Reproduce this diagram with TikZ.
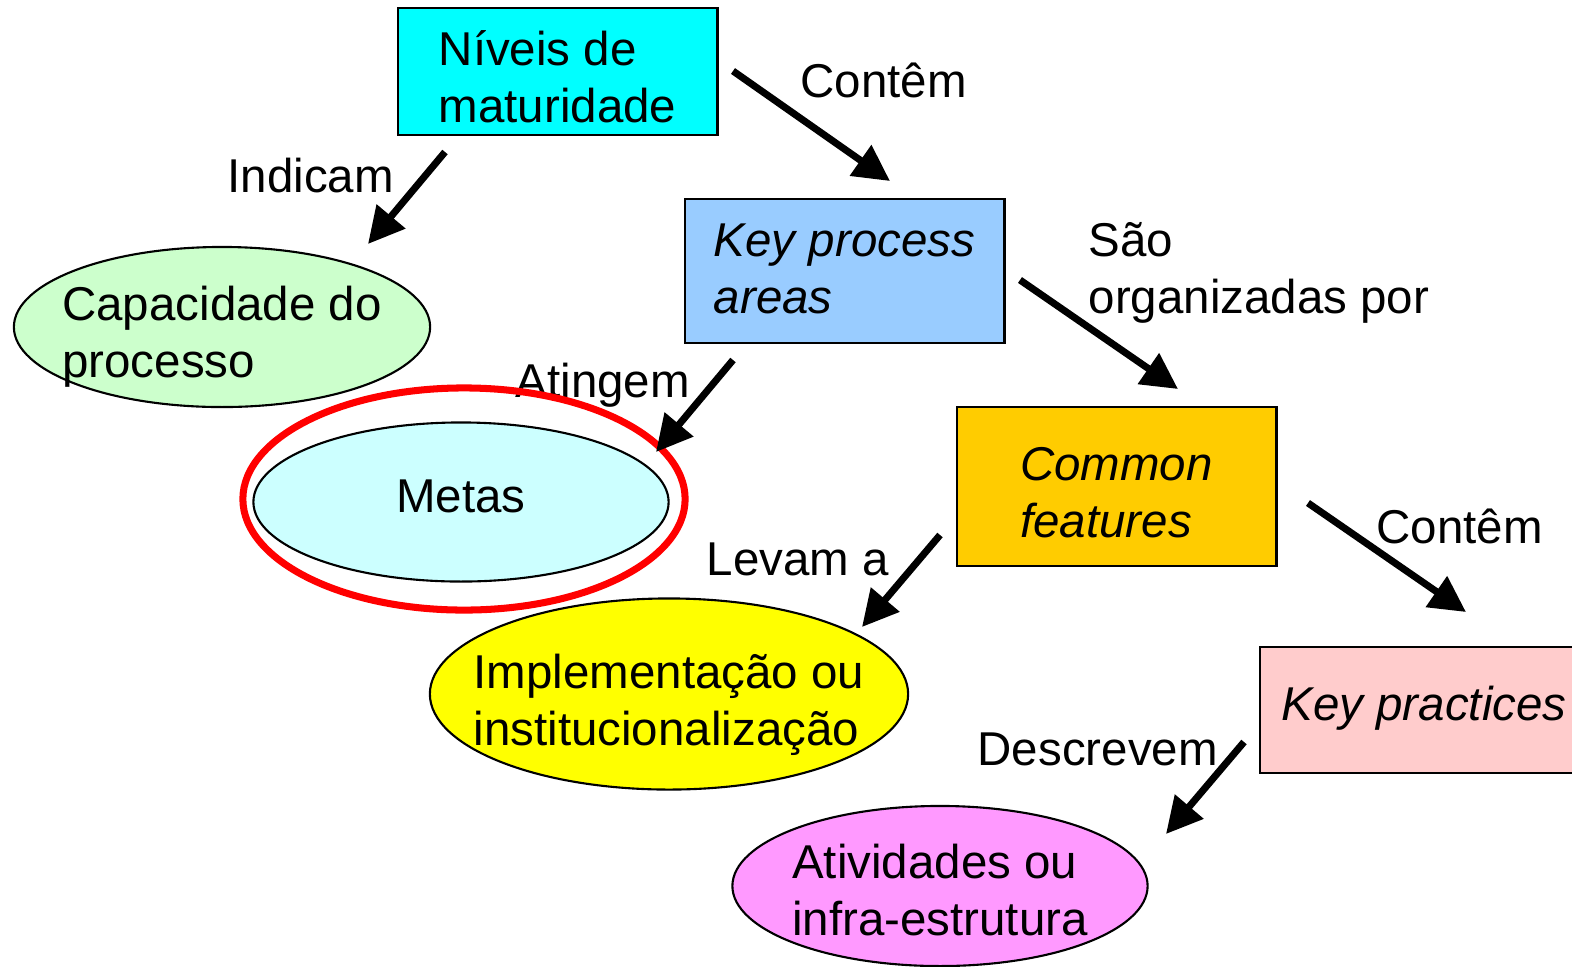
\documentclass[tikz,border=0pt]{standalone}
\usepackage{fontspec}
\setmainfont{Liberation Sans}
\usetikzlibrary{arrows.meta,shapes.geometric}

\definecolor{cyanbox}{RGB}{0,255,255}
\definecolor{bluebox}{RGB}{153,204,255}
\definecolor{goldbox}{RGB}{255,204,0}
\definecolor{pinkbox}{RGB}{255,204,204}
\definecolor{greenoval}{RGB}{204,255,204}
\definecolor{aquaoval}{RGB}{204,255,255}
\definecolor{yellowoval}{RGB}{255,255,0}
\definecolor{violetoval}{RGB}{255,153,255}

\tikzset{
  box/.style={draw, rectangle, line width=0.8pt, align=left, inner ysep=0pt, text depth=0pt},
  oval/.style={draw, ellipse, line width=0.6pt, align=left, inner xsep=-0.4cm, inner ysep=0pt, text depth=0pt},
  link/.style={line width=2pt, -{Triangle[length=0.36cm,width=0.36cm]}},
  tag/.style={anchor=base west, inner sep=0pt, align=left},
}

\begin{document}
\fontsize{13.5}{16.2}\selectfont
\begin{tikzpicture}[x=0.01cm, y=-0.01cm]
			\useasboundingbox (0,0) rectangle (1572,966);
			\node[box, fill=cyanbox, minimum width=3.19cm, minimum height=1.27cm, text height=1.01cm] (n_niveis) at (557.5,71.5) {Níveis de\\maturidade};
			\node[box, fill=bluebox, minimum width=3.19cm, minimum height=1.44cm, text height=0.84cm, font=\itshape] (n_kpa) at (844.5,271) {Key process\\areas};
			\node[box, fill=goldbox, minimum width=3.19cm, minimum height=1.59cm, text height=1.01cm, font=\itshape] (n_common) at (1116.5,486.5) {Common\\features};
			\node[box, fill=pinkbox, minimum width=3.28cm, minimum height=1.26cm, text height=0.2cm, font=\itshape] (n_kprac) at (1424,710) {Key practices};
			\node[oval, fill=greenoval, minimum width=4.16cm, minimum height=1.6cm, text height=1.0cm] (o_capac) at (222,327) {Capacidade do\\processo};
			\node[oval, fill=aquaoval, minimum width=4.15cm, minimum height=1.59cm, text height=0.2cm] (o_metas) at (461,502) {Metas};
			\node[oval, fill=yellowoval, minimum width=4.78cm, minimum height=1.91cm, text height=1.02cm] (o_impl) at (669,694) {Implementação ou\\institucionalização};
			\node[oval, fill=violetoval, minimum width=4.15cm, minimum height=1.6cm, text height=0.98cm] (o_ativ) at (940,886) {Atividades ou\\infra-estrutura};

			\node[tag] (t_contem1) at (800,97) {Contêm};
			\node[tag] (t_indicam) at (227,192) {Indicam};
			\node[tag] (t_sao) at (1088,313) {São\\organizadas por};
			\node[tag] (t_atingem) at (515,397) {Atingem};
			\node[tag] (t_contem2) at (1376,543) {Contêm};
			\node[tag] (t_levam) at (706,575) {Levam a};
			\node[tag] (t_descr) at (977,765) {Descrevem};

			\node[draw=red, ellipse, line width=2pt, minimum width=4.42cm, minimum height=2.22cm] (o_mark) at (464,499) {};

			\coordinate (c_contem1a) at (733,71);
			\coordinate (c_contem1b) at (890,181);
			\coordinate (c_indicama) at (445,152);
			\coordinate (c_indicamb) at (368,244);
			\coordinate (c_saoa) at (1020,280);
			\coordinate (c_saob) at (1178,389);
			\coordinate (c_atingema) at (733,360);
			\coordinate (c_atingemb) at (656,452);
			\coordinate (c_contem2a) at (1308,503);
			\coordinate (c_contem2b) at (1466,612);
			\coordinate (c_levama) at (940,535);
			\coordinate (c_levamb) at (862,627);
			\coordinate (c_descra) at (1244,742);
			\coordinate (c_descrb) at (1166,834);
			\draw[link] (c_contem1a) -- (c_contem1b);
			\draw[link] (c_indicama) -- (c_indicamb);
			\draw[link] (c_saoa) -- (c_saob);
			\draw[link] (c_atingema) -- (c_atingemb);
			\draw[link] (c_contem2a) -- (c_contem2b);
			\draw[link] (c_levama) -- (c_levamb);
			\draw[link] (c_descra) -- (c_descrb);
		\end{tikzpicture}
\end{document}
